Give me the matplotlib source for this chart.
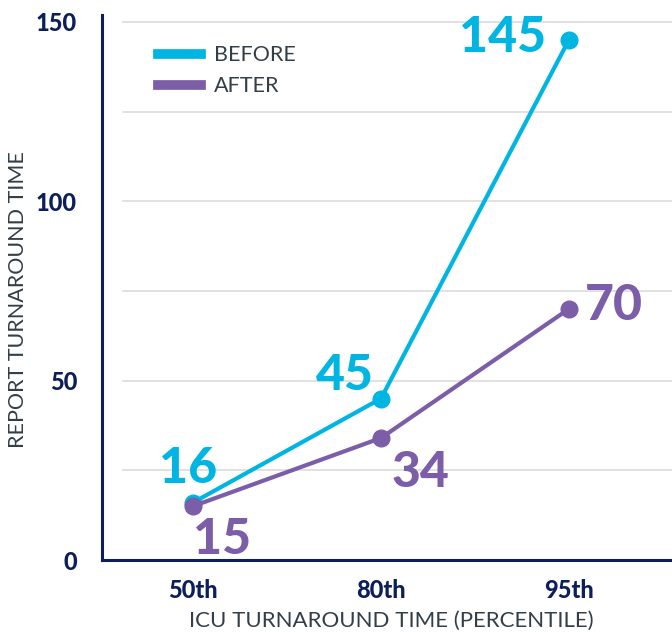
import matplotlib
matplotlib.use("Agg")
import matplotlib.pyplot as plt

# --- DATA ---
percentiles = ["50th", "80th", "95th"]
before = [16, 45, 145]
after = [15, 34, 70]
y_ticks = [0, 50, 100, 150]
grid_levels = [25, 50, 75, 100, 125, 150]

# --- STYLE ---
CYAN = "#00b5e2"
PURPLE = "#7b5ea7"
NAVY = "#0c1f5b"
GRAY = "#333f48"
FONT = "Lato"

fig = plt.figure(figsize=(6.72, 6.32), dpi=100)
ax = fig.add_axes([102 / 672, 72 / 632, 570 / 672, 545 / 632])

x = list(range(len(percentiles)))

for level in grid_levels:
    ax.axhline(level, xmin=0.037, xmax=1, color="#dcdcdc", lw=1.2, zorder=0)

ax.plot(x, before, color=CYAN, lw=3, marker="o", ms=12, label="BEFORE", zorder=3)
ax.plot(x, after, color=PURPLE, lw=3, marker="o", ms=12, label="AFTER", zorder=4)

# value labels (offsets in pixels)
before_offsets = [(-5, 38), (-36, 27), (-66, 6)]
after_offsets = [(29, -29), (40, -30), (45, 7)]
for xi, v, off in zip(x, before, before_offsets):
    ax.annotate(str(v), (xi, v), xytext=off, textcoords="offset pixels",
                ha="center", va="center_baseline", color=CYAN, fontsize=36,
                fontweight="black", family=FONT, zorder=5)
for xi, v, off in zip(x, after, after_offsets):
    ax.annotate(str(v), (xi, v), xytext=off, textcoords="offset pixels",
                ha="center", va="center_baseline", color=PURPLE, fontsize=36,
                fontweight="black", family=FONT, zorder=5)

ax.set_xlim(-0.484, 2.548)
ax.set_ylim(0, 151.9)
ax.set_xticks(x)
ax.set_xticklabels(percentiles, fontsize=17, fontweight="black", color=NAVY, family=FONT)
ax.set_yticks(y_ticks)
ax.set_yticklabels([str(t) for t in y_ticks], fontsize=17, fontweight="black", color=NAVY, family=FONT)
ax.tick_params(length=0)
ax.tick_params(axis="x", pad=14)
ax.tick_params(axis="y", pad=18)

for side in ["top", "right"]:
    ax.spines[side].set_visible(False)
for side in ["left", "bottom"]:
    ax.spines[side].set_color(NAVY)
    ax.spines[side].set_linewidth(2.2)

ax.set_xlabel("ICU TURNAROUND TIME (PERCENTILE)", fontsize=16, color=GRAY, family=FONT)
ax.set_ylabel("REPORT TURNAROUND TIME", fontsize=15.5, color=GRAY, family=FONT)
ax.xaxis.set_label_coords(0.507, -0.094)
ax.yaxis.set_label_coords(-0.13, 0.478)

leg = ax.legend(loc="upper left", bbox_to_anchor=(0.065, 0.98), frameon=False,
                prop={"family": FONT, "size": 15.5}, handlelength=2.0, handletextpad=0.6,
                labelspacing=0.5)
for h in leg.get_lines():
    h.set_linewidth(7)
    h.set_marker("")
for t in leg.get_texts():
    t.set_color(GRAY)

fig.savefig("out.png", dpi=100)
